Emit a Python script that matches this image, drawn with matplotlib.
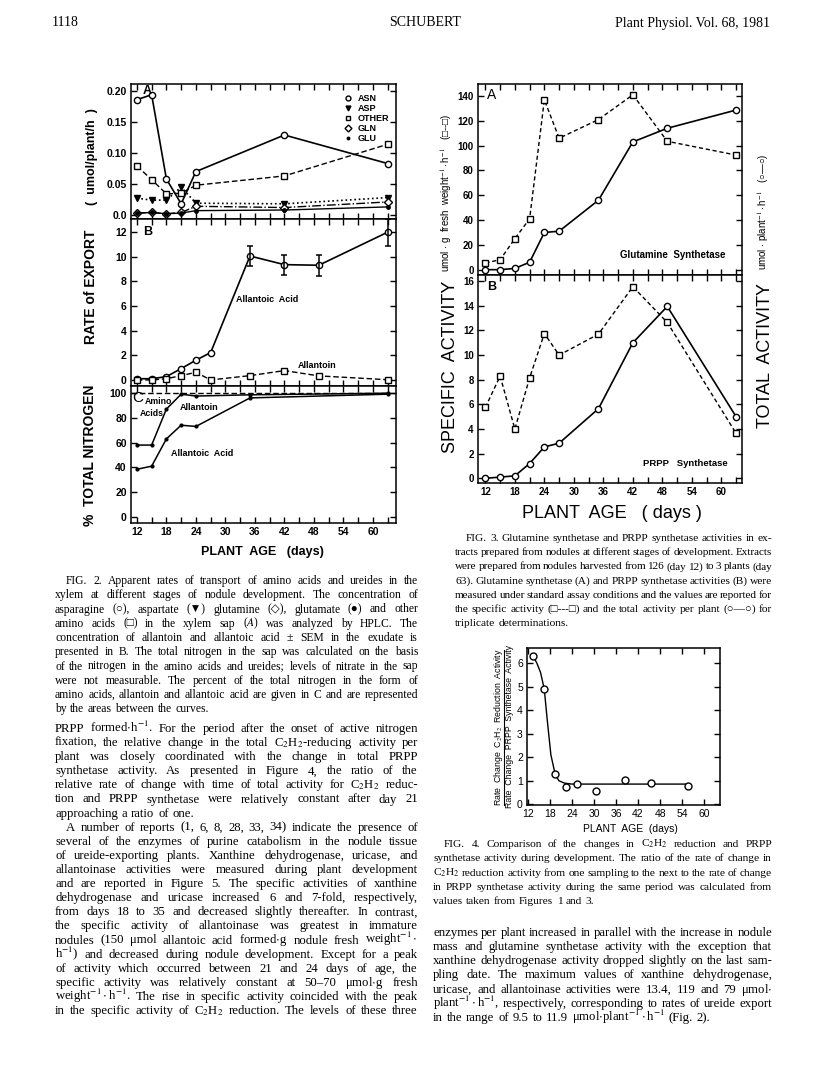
import numpy as np
import matplotlib
matplotlib.use('Agg')
import matplotlib.pyplot as plt
from matplotlib.lines import Line2D

plt.rcParams['mathtext.fontset'] = 'stix'
plt.rcParams['font.family'] = ['Liberation Sans', 'DejaVu Sans']

W, H = 816, 1073
SERIF = ['Liberation Serif', 'DejaVu Sans']

# ---- Fig 2 data ----
days_a = [12, 15, 18, 21, 24, 42, 63]
asn = [0.186, 0.194, 0.058, 0.018, 0.070, 0.129, 0.083]
asp = [0.027, 0.024, 0.024, 0.045, 0.019, 0.018, 0.028]
other = [0.079, 0.057, 0.034, 0.035, 0.048, 0.063, 0.114]
gln = [0.003, 0.004, 0.002, 0.004, 0.014, 0.012, 0.021]
glu = [0.003, 0.004, 0.002, 0.003, 0.007, 0.008, 0.013]

days_b = [12, 15, 18, 21, 24, 27, 35, 42, 49, 63]
allantoic = [0.1, 0.1, 0.27, 0.92, 1.6, 2.22, 10.05, 9.35, 9.3, 11.98]
allantoic_sem = [0, 0, 0, 0, 0, 0, 0.8, 0.8, 0.85, 1.1]
allantoin = [0.0, 0.0, 0.1, 0.35, 0.62, 0.0, 0.35, 0.76, 0.33, 0.02]

days_c = [12, 15, 18, 21, 24, 35, 63]
pct_upper = [58, 58, 87, 99, 97.5, 98.5, 99.8]
pct_lower = [38.5, 41, 63, 74, 73, 96, 99]
total_pct = 100

# ---- Fig 3 data ----
days_e = [12, 15, 18, 21, 24, 27, 35, 42, 49, 63]
gs_spec = [5.4, 8, 25, 41, 137, 106, 121, 141, 103.5, 92.4]
gs_total = [0, 0, 1, 6, 30, 31, 56, 103, 114, 128.7]
prpp_spec = [5.75, 8.3, 4.0, 8.15, 11.75, 10.0, 11.7, 15.55, 12.65, 3.65]
prpp_total = [0, 0.1, 0.2, 1.2, 2.55, 2.85, 5.65, 11.0, 13.95, 5.0]

# ---- Fig 4 data ----
days_r = [13.5, 16.5, 19.5, 22.5, 25.5, 30.5, 38.5, 45.5, 55.5]
ratio = [6.31, 4.92, 1.28, 0.75, 0.87, 0.57, 1.02, 0.92, 0.79]
fit_days = [13.5, 14.5, 15.5, 16.5, 17.3, 18.3, 19.5, 20.5, 22, 24, 55.5]
fit_ratio = [6.3, 6.0, 5.6, 4.9, 3.6, 2.1, 1.25, 1.0, 0.9, 0.86, 0.86]

fig = plt.figure(figsize=(W/100, H/100), dpi=100)
fig.patch.set_facecolor('white')


def box(l, t, r, b):
    return [l/W, 1-b/H, (r-l)/W, (b-t)/H]


def ticks(ax, xmaj, xmin, lab=True, fs=7.5, bold=True):
    ax.set_xticks(xmaj)
    ax.set_xticks(xmin, minor=True)
    ax.tick_params(which='both', direction='in', top=True, right=True,
                   length=4, width=1, labelsize=fs, pad=3)
    if not lab:
        ax.tick_params(labelbottom=False)
    for s in ax.spines.values():
        s.set_linewidth(1.1)
    if bold:
        for t in ax.get_xticklabels() + ax.get_yticklabels():
            t.set_fontweight('bold')


mk = dict(mfc='white', mec='k', mew=1, ms=4.5, color='k', lw=1.2)

# ================= FIG 2 =================
xl2 = (10.8, 64.7)
axA = fig.add_axes(box(131, 84, 396, 219))
axA.plot(days_a, asn, marker='o', ls='-', **mk)
axA.plot(days_a, other, marker='s', ls=(0, (4, 2)), **dict(mk, lw=1))
axA.plot(days_a, asp, marker='v', ls=':', color='k', mfc='k', ms=4, lw=1.2)
axA.plot(days_a, gln, marker='D', ls='-.', **dict(mk, ms=4, lw=1))
axA.plot(days_a, glu, marker='o', ls='-', color='k', mfc='k', ms=2.5, lw=1)
axA.set_xlim(xl2)
axA.set_ylim(-0.0065, 0.2113)
axA.set_yticks([0, 0.05, 0.10, 0.15, 0.20])
axA.set_yticklabels(['0.0', '0.05', '0.10', '0.15', '0.20'])
ticks(axA, np.arange(12, 61, 6), np.arange(15, 64, 6), lab=False)
hnd = [Line2D([], [], ls='none', marker='o', mfc='white', mec='k', ms=3.5),
       Line2D([], [], ls='none', marker='v', color='k', ms=3.5),
       Line2D([], [], ls='none', marker='s', mfc='white', mec='k', ms=3.5),
       Line2D([], [], ls='none', marker='D', mfc='white', mec='k', ms=3.5),
       Line2D([], [], ls='none', marker='o', color='k', ms=1.8)]
axA.legend(hnd, ['ASN', 'ASP', 'OTHER', 'GLN', 'GLU'], loc='upper left',
           bbox_to_anchor=(0.79, 0.96), frameon=False, handlelength=0.8,
           handletextpad=0.6, labelspacing=0.12, borderpad=0,
           prop={'weight': 'bold', 'size': 6.5})
axA.text(0.045, 0.95, 'A', transform=axA.transAxes, fontsize=9, fontweight='bold', va='center')

axB = fig.add_axes(box(131, 219, 396, 386))
axB.plot(days_b, allantoic, marker='o', ls='-', **mk)
sel = [i for i, s in enumerate(allantoic_sem) if s > 0]
axB.errorbar([days_b[i] for i in sel], [allantoic[i] for i in sel],
             yerr=[allantoic_sem[i] for i in sel], fmt='none', ecolor='k',
             capsize=2.5, elinewidth=1.1, capthick=1.1)
axB.plot(days_b, allantoin, marker='s', ls=(0, (4, 2)), **dict(mk, lw=1))
axB.set_xlim(xl2)
axB.set_ylim(-0.49, 13.05)
axB.set_yticks(np.arange(0, 13, 2))
ticks(axB, np.arange(12, 61, 6), np.arange(15, 64, 6), lab=False)
axB.text(0.045, 0.925, 'B', transform=axB.transAxes, fontsize=9, fontweight='bold', va='center')
axB.text(38.4, 6.5, 'Allantoic  Acid', fontsize=6.5, fontweight='bold', ha='center', va='center')
axB.text(48.6, 1.2, 'Allantoin', fontsize=6.5, fontweight='bold', ha='center', va='center')

axC = fig.add_axes(box(131, 386, 396, 523))
axC.axhline(total_pct, ls=(0, (4, 2)), color='k', lw=1)
axC.plot(days_c, pct_upper, marker='o', ms=2, color='k', lw=1.1)
axC.plot(days_c, pct_lower, marker='o', ms=2, color='k', lw=1.1)
axC.set_xlim(xl2)
axC.set_ylim(-4.8, 105.6)
axC.set_yticks(np.arange(0, 101, 20))
ticks(axC, np.arange(12, 61, 6), np.arange(15, 64, 6))
axC.text(11.1, 96, 'C', fontsize=11, ha='left', va='center')
axC.text(16.4, 93.5, 'Amino', fontsize=6.3, fontweight='bold', ha='center', va='center')
axC.text(15.0, 83.5, 'Acids', fontsize=6.3, fontweight='bold', ha='center', va='center')
axC.text(24.6, 88, 'Allantoin', fontsize=6.5, fontweight='bold', ha='center', va='center')
axC.text(25.2, 51.5, 'Allantoic  Acid', fontsize=6.5, fontweight='bold', ha='center', va='center')

fig.text(91/W, 1-287/H, 'RATE of EXPORT', rotation=90, fontsize=10, fontweight='bold', ha='center', va='center')
fig.text(92/W, 1-157/H, '(  umol/plant/h  )', rotation=90, fontsize=9, fontweight='bold', ha='center', va='center')
fig.text(90/W, 1-455/H, '%  TOTAL NITROGEN', rotation=90, fontsize=10, fontweight='bold', ha='center', va='center')
fig.text(262/W, 1-552/H, 'PLANT  AGE   (days)', fontsize=9, fontweight='bold', ha='center', va='center')

# ================= FIG 3 =================
xl3 = (10.5, 64.2)
ax3a = fig.add_axes(box(478, 84, 742, 275))
ax3a.plot(days_e, gs_spec, marker='s', ls=(0, (3, 2)), **dict(mk, lw=1))
ax3a.plot(days_e, gs_total, marker='o', ls='-', **mk)
ax3a.set_xlim(xl3)
ax3a.set_ylim(-4.3, 149.7)
ax3a.set_yticks(np.arange(0, 141, 20))
ticks(ax3a, np.arange(12, 61, 6), np.arange(15, 64, 6), lab=False, fs=7)
ax3a.text(0.035, 0.94, 'A', transform=ax3a.transAxes, fontsize=10, va='center')
ax3a.text(50.2, 11.9, 'Glutamine  Synthetase', fontsize=7, fontweight='bold',
          family=['Liberation Sans Narrow', 'Liberation Sans'], ha='center', va='center')

ax3b = fig.add_axes(box(478, 275, 742, 483))
ax3b.plot(days_e, prpp_spec, marker='s', ls=(0, (3, 2)), **dict(mk, lw=1))
ax3b.plot(days_e, prpp_total, marker='o', ls='-', **mk)
ax3b.set_xlim(xl3)
ax3b.set_ylim(-0.38, 16.5)
ax3b.set_yticks(np.arange(0, 17, 2))
ticks(ax3b, np.arange(12, 61, 6), np.arange(15, 64, 6), fs=7)
ax3b.text(0.035, 0.94, 'B', transform=ax3b.transAxes, fontsize=9, fontweight='bold', va='center')
ax3b.text(52.7, 1.24, 'PRPP   Synthetase', fontsize=6.8, fontweight='bold',
          family=['Liberation Sans Narrow', 'Liberation Sans'], ha='center', va='center')

fig.text(446/W, 1-193/H, r'umol $\cdot$ g  fresh  weight$^{-1}\cdot$h$^{-1}$   (□--□)', rotation=90,
         fontsize=7, ha='center', va='center')
fig.text(763/W, 1-212/H, r'umol $\cdot$ plant$^{-1}\cdot$h$^{-1}$   (○—○)', rotation=90,
         fontsize=7, ha='center', va='center')
fig.text(450/W, 1-367/H, 'SPECIFIC  ACTIVITY', rotation=90, fontsize=13, ha='center', va='center')
fig.text(765/W, 1-355/H, 'TOTAL  ACTIVITY', rotation=90, fontsize=13, ha='center', va='center')
fig.text(612/W, 1-513/H, 'PLANT  AGE   ( days )', fontsize=13, ha='center', va='center')

# ================= FIG 4 =================
ax4 = fig.add_axes(box(527, 648, 720, 805))
ax4.plot(fit_days, fit_ratio, color='k', lw=1)
ax4.plot(days_r, ratio, ls='none', marker='o', mfc='white', mec='k', mew=1, ms=5)
ax4.set_xlim(11.8, 64.3)
ax4.set_ylim(-0.03, 6.65)
ax4.set_yticks(np.arange(0, 7, 1))
ticks(ax4, np.arange(12, 61, 6), [], fs=7.5, bold=False)
fig.text(498/W, 1-727/H, r'Rate  Change  C$_2$H$_2$  Reduction  Activity', rotation=90,
         fontsize=6.3, ha='center', va='center')
fig.text(510/W, 1-727/H, 'Rate  Change  PRPP  Synthetase  Activity', rotation=90,
         fontsize=6.3, ha='center', va='center')
fig.add_artist(Line2D([504/W, 504/W], [1-650/H, 1-805/H], color='k', lw=0.8))
fig.text(630/W, 1-829/H, 'PLANT  AGE  (days)', fontsize=7.5, ha='center', va='center')

# ================= page text =================
renderer = fig.canvas.get_renderer()


def para(lines, x0, x1, y0, dy, size, indent=(), last=()):
    # justified lines, one text per word
    for i, line in enumerate(lines):
        yb = 1 - (y0 + i*dy + 4)/H
        left = x0 + (11 if i in indent else 0)
        words = line.split(' ')
        fs = size
        while True:
            objs = [fig.text(0, yb, w, fontsize=fs, family=SERIF, va='baseline') for w in words]
            wid = [o.get_window_extent(renderer).width for o in objs]
            if i in last or sum(wid) + 1.8*(len(words)-1) <= x1 - left or fs < size*0.8:
                break
            for o in objs:
                o.remove()
            fs -= 0.1
        if i in last or len(words) == 1:
            gap = fs*0.3*100/72
        else:
            gap = (x1 - left - sum(wid)) / (len(words)-1)
        x = left
        for o, w in zip(objs, wid):
            o.set_x(x/W)
            x += w + gap


fig.text(52/W, 1-23/H, '1118', fontsize=10, family=SERIF, va='center')
fig.text(425/W, 1-23/H, 'SCHUBERT', fontsize=10, family=SERIF, va='center', ha='center')
fig.text(770/W, 1-23/H, 'Plant Physiol. Vol. 68, 1981', fontsize=10, family=SERIF, va='center', ha='right')

cap2 = [
    'FIG. 2. Apparent rates of transport of amino acids and ureides in the',
    'xylem at different stages of nodule development. The concentration of',
    'asparagine (○), aspartate (▼) glutamine (◇), glutamate (●) and other',
    r'amino acids (□) in the xylem sap ($\mathit{A}$) was analyzed by HPLC. The',
    'concentration of allantoin and allantoic acid ± SEM in the exudate is',
    'presented in B. The total nitrogen in the sap was calculated on the basis',
    'of the nitrogen in the amino acids and ureides; levels of nitrate in the sap',
    'were not measurable. The percent of the total nitrogen in the form of',
    'amino acids, allantoin and allantoic acid are given in C and are represented',
    'by the areas between the curves.',
]
body_l = [
    r'PRPP formed$\cdot$h$^{-1}$. For the period after the onset of active nitrogen',
    r'fixation, the relative change in the total C$_2$H$_2$-reducing activity per',
    'plant was closely coordinated with the change in total PRPP',
    'synthetase activity. As presented in Figure 4, the ratio of the',
    r'relative rate of change with time of total activity for C$_2$H$_2$ reduc-',
    'tion and PRPP synthetase were relatively constant after day 21',
    'approaching a ratio of one.',
    'A number of reports (1, 6, 8, 28, 33, 34) indicate the presence of',
    'several of the enzymes of purine catabolism in the nodule tissue',
    'of ureide-exporting plants. Xanthine dehydrogenase, uricase, and',
    'allantoinase activities were measured during plant development',
    'and are reported in Figure 5. The specific activities of xanthine',
    'dehydrogenase and uricase increased 6 and 7-fold, respectively,',
    'from days 18 to 35 and decreased slightly thereafter. In contrast,',
    'the specific activity of allantoinase was greatest in immature',
    r'nodules (150 μmol allantoic acid formed$\cdot$g nodule fresh weight$^{-1}\cdot$',
    r'h$^{-1}$) and decreased during nodule development. Except for a peak',
    'of activity which occurred between 21 and 24 days of age, the',
    r'specific activity was relatively constant at 50–70 μmol$\cdot$g fresh',
    r'weight$^{-1}\cdot$h$^{-1}$. The rise in specific activity coincided with the peak',
    r'in the specific activity of C$_2$H$_2$ reduction. The levels of these three',
]
cap3 = [
    'FIG. 3. Glutamine synthetase and PRPP synthetase activities in ex-',
    'tracts prepared from nodules at different stages of development. Extracts',
    'were prepared from nodules harvested from 126 (day 12) to 3 plants (day',
    '63). Glutamine synthetase (A) and PRPP synthetase activities (B) were',
    'measured under standard assay conditions and the values are reported for',
    'the specific activity (□---□) and the total activity per plant (○—○) for',
    'triplicate determinations.',
]
cap4 = [
    r'FIG. 4. Comparison of the changes in C$_2$H$_2$ reduction and PRPP',
    'synthetase activity during development. The ratio of the rate of change in',
    r'C$_2$H$_2$ reduction activity from one sampling to the next to the rate of change',
    'in PRPP synthetase activity during the same period was calculated from',
    'values taken from Figures 1 and 3.',
]
body_r = [
    'enzymes per plant increased in parallel with the increase in nodule',
    'mass and glutamine synthetase activity with the exception that',
    'xanthine dehydrogenase activity dropped slightly on the last sam-',
    'pling date. The maximum values of xanthine dehydrogenase,',
    r'uricase, and allantoinase activities were 13.4, 119 and 79 μmol$\cdot$',
    r'plant$^{-1}\cdot$h$^{-1}$, respectively, corresponding to rates of ureide export',
    r'in the range of 9.5 to 11.9 μmol$\cdot$plant$^{-1}\cdot$h$^{-1}$ (Fig. 2).',
]

para(cap2, 55, 418, 580, 14.25, 8.4, indent=(0,), last=(9,))
para(body_l, 55, 418, 728, 14.1, 9.2, indent=(7,), last=(6,))
para(cap3, 455, 772, 537, 14.2, 8.2, indent=(0,), last=(6,))
para(cap4, 433, 772, 843, 14.3, 8.2, indent=(0,), last=(4,))
para(body_r, 433, 772, 932, 14.15, 9.2, last=(6,))

fig.savefig('out.png', dpi=100, facecolor='white')
